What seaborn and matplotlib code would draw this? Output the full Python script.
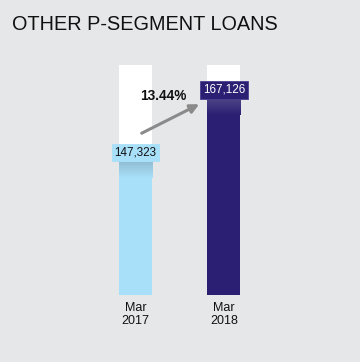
import numpy as np
import pandas as pd
import matplotlib
matplotlib.use("Agg")
import matplotlib.pyplot as plt
import seaborn as sns
from matplotlib.colors import LinearSegmentedColormap

# ---- data ----
periods = ["Mar\n2017", "Mar\n2018"]
values = [147323, 167126]
value_labels = ["147,323", "167,126"]
growth_label = "13.44%"
title = "OTHER P-SEGMENT LOANS"

# ---- styles ----
bg = "#e6e7e9"
bar_colors = ["#a9e0f9", "#2b1f73"]
shade_colors = ["#93bfd6", "#4d4386"]
label_text_colors = ["#111111", "#ffffff"]
ylim = (102300, 175100)

sns.set_theme(style="white")
plt.rcParams["font.family"] = ["Liberation Sans", "DejaVu Sans"]

W, H, dpi = 360, 362, 100
fig = plt.figure(figsize=(W / dpi, H / dpi), dpi=dpi, facecolor=bg)

ax_top_px, ax_bot_px = 64.7, 294.7
ax = fig.add_axes([0, (H - ax_bot_px) / H, 1, (ax_bot_px - ax_top_px) / H])
ax.set_facecolor("none")

df = pd.DataFrame({"period": periods, "value": values})
df["full"] = ylim[1]

bar_w = 0.373
sns.barplot(data=df, x="period", y="full", color="white", width=bar_w,
            ax=ax, saturation=1, edgecolor="none", linewidth=0)
sns.barplot(data=df, x="period", y="value", hue="period", palette=bar_colors,
            width=bar_w, ax=ax, saturation=1, edgecolor="none", linewidth=0,
            legend=False)

ax.set_ylim(*ylim)
ax.set_xlim(-1.531, 2.537)

px_per_unit = (ax_bot_px - ax_top_px) / (ylim[1] - ylim[0])
box_half = 9.5 / px_per_unit
grad_len = 16 / px_per_unit

for i, v in enumerate(values):
    cmap = LinearSegmentedColormap.from_list("g", [bar_colors[i], shade_colors[i]])
    grad = np.linspace(0, 1, 64).reshape(-1, 1) * np.ones((1, 8))
    ax.imshow(grad, cmap=cmap, aspect="auto", origin="lower", interpolation="bilinear",
              extent=[i - bar_w / 2, i + bar_w / 2,
                      v - box_half - grad_len, v - box_half],
              zorder=3)
    ax.text(i, v, value_labels[i], ha="center", va="center",
            fontsize=8.4, color=label_text_colors[i], zorder=5,
            bbox=dict(boxstyle="square,pad=0.25", fc=bar_colors[i],
                      ec=bar_colors[i] if i == 0 else "#4a4090", lw=0.6))

ax.set_xlim(-1.531, 2.537)
ax.set_ylim(*ylim)

ax.annotate("", xy=(0.72, 162595), xytext=(0.07, 153407),
            arrowprops=dict(arrowstyle="-|>", color="#8a8a8a", lw=2.2,
                            mutation_scale=13, shrinkA=0, shrinkB=0), zorder=6)
ax.text(0.311, 165225, growth_label, ha="center", va="center", fontsize=9.8,
        fontweight="bold", color="#111111", zorder=6)

ax.set_xlabel("")
ax.set_ylabel("")
ax.set_yticks([])
ax.tick_params(axis="x", length=0, pad=5, labelsize=9, labelcolor="#111111")
for t in ax.get_xticklabels():
    t.set_linespacing(1.2)
for s in ax.spines.values():
    s.set_visible(False)

fig.text(12 / W, 1 - 24.5 / H, title, ha="left", va="center", fontsize=14.3, color="#111111")

fig.savefig("out.png", dpi=dpi, facecolor=bg)
